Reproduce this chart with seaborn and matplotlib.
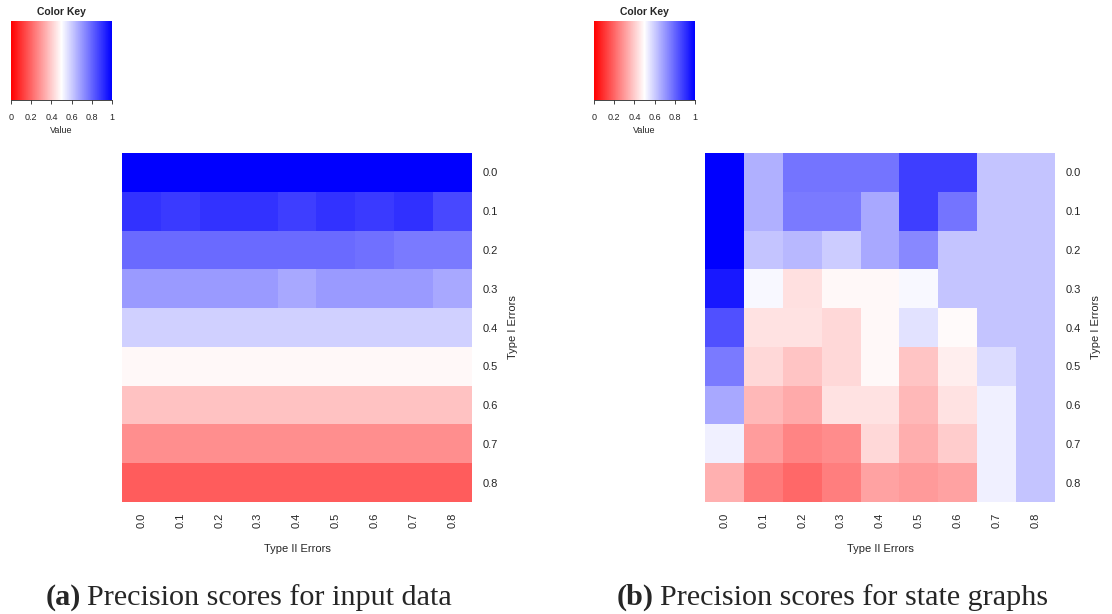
import numpy as np
import pandas as pd
import matplotlib
matplotlib.use("Agg")
import matplotlib.pyplot as plt
import seaborn as sns
from matplotlib.colors import LinearSegmentedColormap
import matplotlib as mpl

sns.set_style("white")
plt.rcParams['font.family'] = ['Liberation Sans', 'DejaVu Sans']

type1 = ["0.0", "0.1", "0.2", "0.3", "0.4", "0.5", "0.6", "0.7", "0.8"]
type2 = ["0.0", "0.1", "0.2", "0.3", "0.4", "0.5", "0.6", "0.7", "0.8"]

input_scores = [
    [1.000, 1.000, 1.000, 1.000, 1.000, 1.000, 1.000, 1.000, 1.000],
    [0.900, 0.886, 0.900, 0.900, 0.875, 0.900, 0.886, 0.906, 0.859],
    [0.792, 0.792, 0.792, 0.792, 0.792, 0.792, 0.780, 0.759, 0.759],
    [0.696, 0.696, 0.696, 0.696, 0.671, 0.696, 0.696, 0.696, 0.671],
    [0.592, 0.592, 0.592, 0.592, 0.592, 0.592, 0.592, 0.592, 0.592],
    [0.486, 0.486, 0.486, 0.486, 0.486, 0.486, 0.486, 0.486, 0.486],
    [0.380, 0.380, 0.380, 0.380, 0.380, 0.380, 0.380, 0.380, 0.380],
    [0.280, 0.280, 0.280, 0.280, 0.280, 0.280, 0.280, 0.280, 0.280],
    [0.180, 0.180, 0.180, 0.180, 0.180, 0.180, 0.180, 0.180, 0.180],
]

state_scores = [
    [1.000, 0.655, 0.770, 0.770, 0.770, 0.875, 0.875, 0.614, 0.614],
    [1.000, 0.655, 0.760, 0.760, 0.670, 0.875, 0.770, 0.614, 0.614],
    [1.000, 0.614, 0.640, 0.600, 0.670, 0.733, 0.614, 0.614, 0.614],
    [0.953, 0.514, 0.440, 0.486, 0.486, 0.514, 0.614, 0.614, 0.614],
    [0.843, 0.443, 0.443, 0.424, 0.486, 0.557, 0.490, 0.614, 0.614],
    [0.760, 0.424, 0.384, 0.424, 0.486, 0.384, 0.467, 0.569, 0.614],
    [0.670, 0.360, 0.333, 0.443, 0.443, 0.360, 0.443, 0.530, 0.614],
    [0.530, 0.306, 0.259, 0.275, 0.424, 0.341, 0.402, 0.530, 0.614],
    [0.345, 0.239, 0.204, 0.247, 0.318, 0.302, 0.318, 0.530, 0.614],
]

key_ticks = [0, 0.2, 0.4, 0.6, 0.8, 1]
key_labels = ["0", "0.2", "0.4", "0.6", "0.8", "1"]

captions = [("(a)", "Precision scores for input data"),
            ("(b)", "Precision scores for state graphs")]

cmap = LinearSegmentedColormap.from_list("rwb", ["#FF0000", "#FFFFFF", "#0000FF"])

W, H = 1112, 614
fig = plt.figure(figsize=(W / 100, H / 100), dpi=100)


def fx(px):
    return px / W


def fy(py):
    return 1 - py / H


panels = [(input_scores, 122, 11, 46), (state_scores, 705, 594, 617)]

for (data, hx, kx, cx), (cap_b, cap_t) in zip(panels, captions):
    df = pd.DataFrame(data, index=type1, columns=type2)
    ax = fig.add_axes([fx(hx), fy(502), fx(350), (502 - 153) / H])
    sns.heatmap(df, ax=ax, cmap=cmap, vmin=0, vmax=1, cbar=False, square=False)
    ax.yaxis.tick_right()
    ax.yaxis.set_label_position("right")
    ax.set_yticklabels(type1, rotation=0, fontsize=8)
    ax.set_xticklabels(type2, rotation=90, fontsize=8)
    ax.tick_params(axis='y', length=0, pad=7.5)
    ax.tick_params(axis='x', length=0, pad=8)
    ax.set_ylabel("Type I Errors", fontsize=8, labelpad=7)
    ax.set_xlabel("Type II Errors", fontsize=8, labelpad=11)

    # colour key
    kax = fig.add_axes([fx(kx), fy(100), fx(101), 79 / H])
    norm = mpl.colors.Normalize(vmin=0, vmax=1)
    cb = mpl.colorbar.ColorbarBase(kax, cmap=cmap, norm=norm, orientation='horizontal')
    cb.outline.set_visible(False)
    cb.set_ticks(key_ticks)
    cb.set_ticklabels(key_labels)
    kax.tick_params(axis='x', labelsize=6.5, length=3, width=0.6, pad=6)
    kax.spines['bottom'].set_visible(True)
    kax.spines['bottom'].set_linewidth(0.6)
    kax.set_xlabel("Value", fontsize=6.5, labelpad=3)
    kax.set_title("Color Key", fontsize=7.5, fontweight='bold', pad=4)

    # caption
    t1 = fig.text(fx(cx), fy(605), cap_b, fontsize=21.7, fontweight='bold',
                  family=['Liberation Serif', 'DejaVu Serif'], va='baseline')
    fig.canvas.draw()
    ax.annotate(cap_t, xy=(1, 0), xycoords=t1, xytext=(4, 0), textcoords='offset points',
                fontsize=21.7, family=['Liberation Serif', 'DejaVu Serif'], va='bottom')

fig.savefig("out.png", dpi=100)
